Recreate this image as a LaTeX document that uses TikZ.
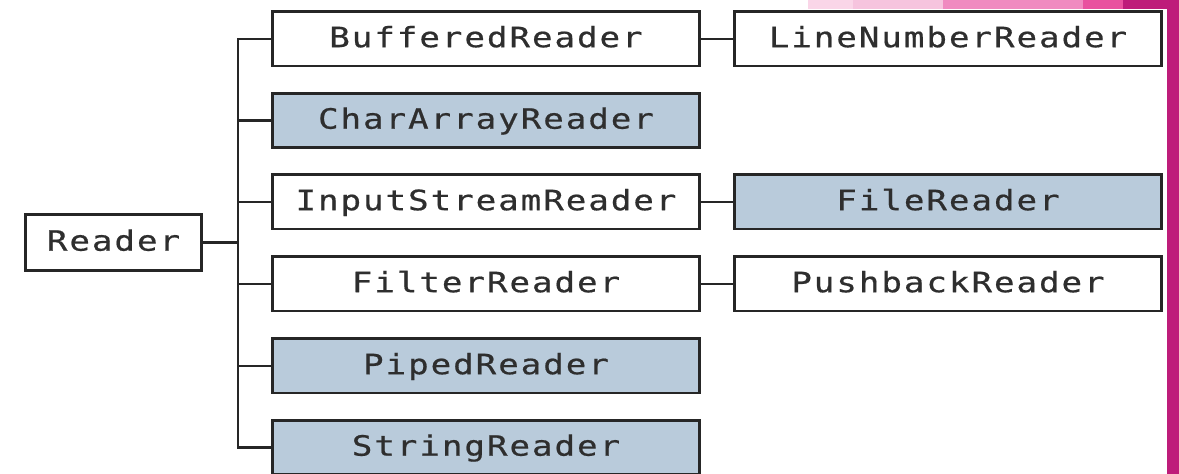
\documentclass[tikz,border=0pt]{standalone}
\usepackage{fontspec}
\newfontfamily\boxfont[FakeStretch=1.22,LetterSpace=7,FakeBold=0.6]{DejaVu Sans Mono}
\definecolor{boxblue}{RGB}{185,203,219}
\definecolor{pinkA}{RGB}{250,214,232}
\definecolor{pinkB}{RGB}{246,196,222}
\definecolor{pinkC}{RGB}{240,138,192}
\definecolor{pinkD}{RGB}{233,81,159}
\definecolor{magentabar}{RGB}{190,28,122}
\tikzset{
  cls/.style={draw=black!85, line width=1.4pt, fill=white,
    minimum width=213.6pt, minimum height=27.1pt, inner sep=0pt, outer sep=0pt,
    text height=10.2pt, text depth=2pt,
    text=black!82, font=\boxfont\fontsize{14}{16}\selectfont},
  blue/.style={cls, fill=boxblue},
  link/.style={draw=black!85, line width=1.2pt}
}
\begin{document}
\begin{tikzpicture}[x=0.5pt, y=-0.5pt]
  % page frame in pixel units
  \useasboundingbox (0,0) rectangle (1179,474);
  \clip (0,0) rectangle (1179,474);
  \fill[white] (0,0) rectangle (1179,474);
  % slide decoration
  \fill[pinkA] (808,0) rectangle (853,9);
  \fill[pinkB] (853,0) rectangle (943,9);
  \fill[pinkC] (943,0) rectangle (1083,9);
  \fill[pinkD] (1083,0) rectangle (1123,9);
  \fill[magentabar] (1123,0) rectangle (1179,9);
  \fill[magentabar] (1167,0) rectangle (1179,474);

  % class hierarchy
  \node[cls, minimum width=88.1pt, minimum height=28.1pt] (reader) at (113.5,242.5) {Reader};
  \node[cls]  (buf)  at (486,39)    {BufferedReader};
  \node[blue] (car)  at (486,120.5) {CharArrayReader};
  \node[cls]  (isr)  at (486,202)   {InputStreamReader};
  \node[cls]  (fil)  at (486,284)   {FilterReader};
  \node[blue] (pip)  at (486,366)   {PipedReader};
  \node[blue] (str)  at (486,447.5) {StringReader};
  \node[cls]  (lnr)  at (948,39)    {LineNumberReader};
  \node[blue] (frd)  at (948,202)   {FileReader};
  \node[cls]  (pbr)  at (948,284)   {PushbackReader};

  \coordinate (tr) at (238,0);
  \draw[link] (buf.west) -- (buf.west -| tr) -- (str.west -| tr) -- (str.west);
  \foreach \n in {car,isr,fil,pip}
    \draw[link] (\n.west) -- (\n.west -| tr);
  \draw[link] (reader.east) -- (reader.east -| tr);
  \draw[link] (buf.east) -- (lnr.west);
  \draw[link] (isr.east) -- (frd.west);
  \draw[link] (fil.east) -- (pbr.west);
\end{tikzpicture}
\end{document}
